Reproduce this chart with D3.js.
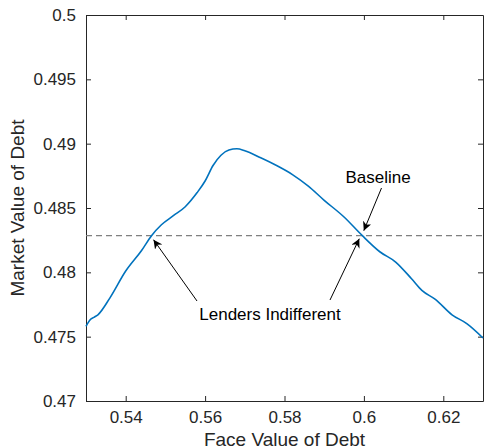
<!DOCTYPE html>
<html>
<head>
<meta charset="utf-8">
<script src="https://cdn.jsdelivr.net/npm/d3@7"></script>
<style>
  body { margin: 0; background: #fff; }
  text { font-family: "Liberation Sans", Arial, Helvetica, sans-serif; }
</style>
</head>
<body>
<div id="chart"></div>
<script>
// face value of debt (x) and market value of debt (y)
const faceValue = [0.530, 0.531, 0.532, 0.533, 0.536, 0.540, 0.544, 0.5465, 0.549, 0.552,
  0.555, 0.558, 0.560, 0.562, 0.564, 0.566, 0.568, 0.570, 0.574, 0.578, 0.582, 0.586,
  0.590, 0.595, 0.5996, 0.604, 0.608, 0.612, 0.6146, 0.618, 0.6222, 0.626, 0.630];
const marketValue = [0.4758, 0.4763, 0.4765, 0.4767, 0.4780, 0.4801, 0.4817, 0.48285, 0.4837, 0.4844,
  0.4851, 0.4862, 0.4871, 0.4883, 0.4891, 0.4895, 0.4896, 0.48945, 0.4889, 0.4883, 0.4876, 0.4867,
  0.4856, 0.4843, 0.48285, 0.4816, 0.4808, 0.4795, 0.4786, 0.4779, 0.4767, 0.4760, 0.4749];
const baseline = 0.48285;
const xTicks = [0.54, 0.56, 0.58, 0.6, 0.62];
const yTicks = [0.47, 0.475, 0.48, 0.485, 0.49, 0.495, 0.5];
const lendersX = [0.5465, 0.5996];

const width = 485, height = 448;
const margin = {top: 15, right: 2, bottom: 47, left: 86};

const svg = d3.select('#chart').append('svg')
  .attr('width', width)
  .attr('height', height);

const x = d3.scaleLinear().domain([0.53, 0.63]).range([margin.left, width - margin.right]);
const y = d3.scaleLinear().domain([0.47, 0.5]).range([height - margin.bottom, margin.top]);

const axisColor = '#262626';
const fmt = d => String(+d.toFixed(3));

function styleAxis(g) {
  g.select('.domain').attr('stroke', axisColor).attr('stroke-width', 1);
  g.selectAll('.tick line').attr('stroke', axisColor);
  g.selectAll('.tick text').attr('fill', axisColor).style('font-size', '17px');
}

svg.append('g')
  .attr('transform', `translate(0,${y(0.47)})`)
  .call(d3.axisBottom(x).tickValues(xTicks).tickFormat(fmt).tickSizeInner(-5).tickSizeOuter(0).tickPadding(10))
  .call(styleAxis);
svg.append('g')
  .attr('transform', `translate(0,${y(0.5)})`)
  .call(d3.axisTop(x).tickValues(xTicks).tickFormat('').tickSizeInner(-5).tickSizeOuter(0))
  .call(styleAxis);
svg.append('g')
  .attr('transform', `translate(${x(0.53)},0)`)
  .call(d3.axisLeft(y).tickValues(yTicks).tickFormat(fmt).tickSizeInner(-5).tickSizeOuter(0).tickPadding(10))
  .call(styleAxis);
svg.append('g')
  .attr('transform', `translate(${x(0.63)},0)`)
  .call(d3.axisRight(y).tickValues(yTicks).tickFormat('').tickSizeInner(-5).tickSizeOuter(0))
  .call(styleAxis);

// axis labels
svg.append('text')
  .attr('x', (x(0.53) + x(0.63)) / 2)
  .attr('y', 446)
  .attr('text-anchor', 'middle')
  .attr('fill', axisColor)
  .style('font-size', '19px')
  .text('Face Value of Debt');
svg.append('text')
  .attr('transform', `translate(24,${(y(0.47) + y(0.5)) / 2}) rotate(-90)`)
  .attr('text-anchor', 'middle')
  .attr('fill', axisColor)
  .style('font-size', '19px')
  .text('Market Value of Debt');

// baseline dashed
svg.append('line')
  .attr('x1', x(0.53)).attr('x2', x(0.63))
  .attr('y1', y(baseline)).attr('y2', y(baseline))
  .attr('stroke', '#808080')
  .attr('stroke-width', 1.2)
  .attr('stroke-dasharray', '6,4');

// curve
const pts = faceValue.map((d, i) => [d, marketValue[i]]);
const line = d3.line().x(d => x(d[0])).y(d => y(d[1])).curve(d3.curveMonotoneX);
svg.append('path')
  .attr('d', line(pts))
  .attr('fill', 'none')
  .attr('stroke', '#0072BD')
  .attr('stroke-width', 1.6);

// annotations
const defs = svg.append('defs');
defs.append('marker')
  .attr('id', 'arrow')
  .attr('viewBox', '0 0 10 10')
  .attr('refX', 10).attr('refY', 5)
  .attr('markerWidth', 9).attr('markerHeight', 9)
  .attr('markerUnits', 'userSpaceOnUse')
  .attr('orient', 'auto')
  .append('path')
  .attr('d', 'M0,0 L10,5 L0,10 L3,5 Z')
  .attr('fill', '#000');

function arrow(x1, y1, x2, y2) {
  svg.append('line')
    .attr('x1', x1).attr('y1', y1)
    .attr('x2', x2).attr('y2', y2)
    .attr('stroke', '#000')
    .attr('stroke-width', 1)
    .attr('marker-end', 'url(#arrow)');
}

svg.append('text')
  .attr('x', 378).attr('y', 183)
  .attr('text-anchor', 'middle')
  .style('font-size', '17px')
  .text('Baseline');
arrow(381.5, 188, x(0.5996) + 1.5, y(baseline) - 5);

svg.append('text')
  .attr('x', 270).attr('y', 320)
  .attr('text-anchor', 'middle')
  .style('font-size', '17px')
  .text('Lenders Indifferent');
arrow(197, 301, x(lendersX[0]) + 2, y(baseline) + 4);
arrow(330, 300, x(lendersX[1]) - 3, y(baseline) + 3);
</script>
</body>
</html>
